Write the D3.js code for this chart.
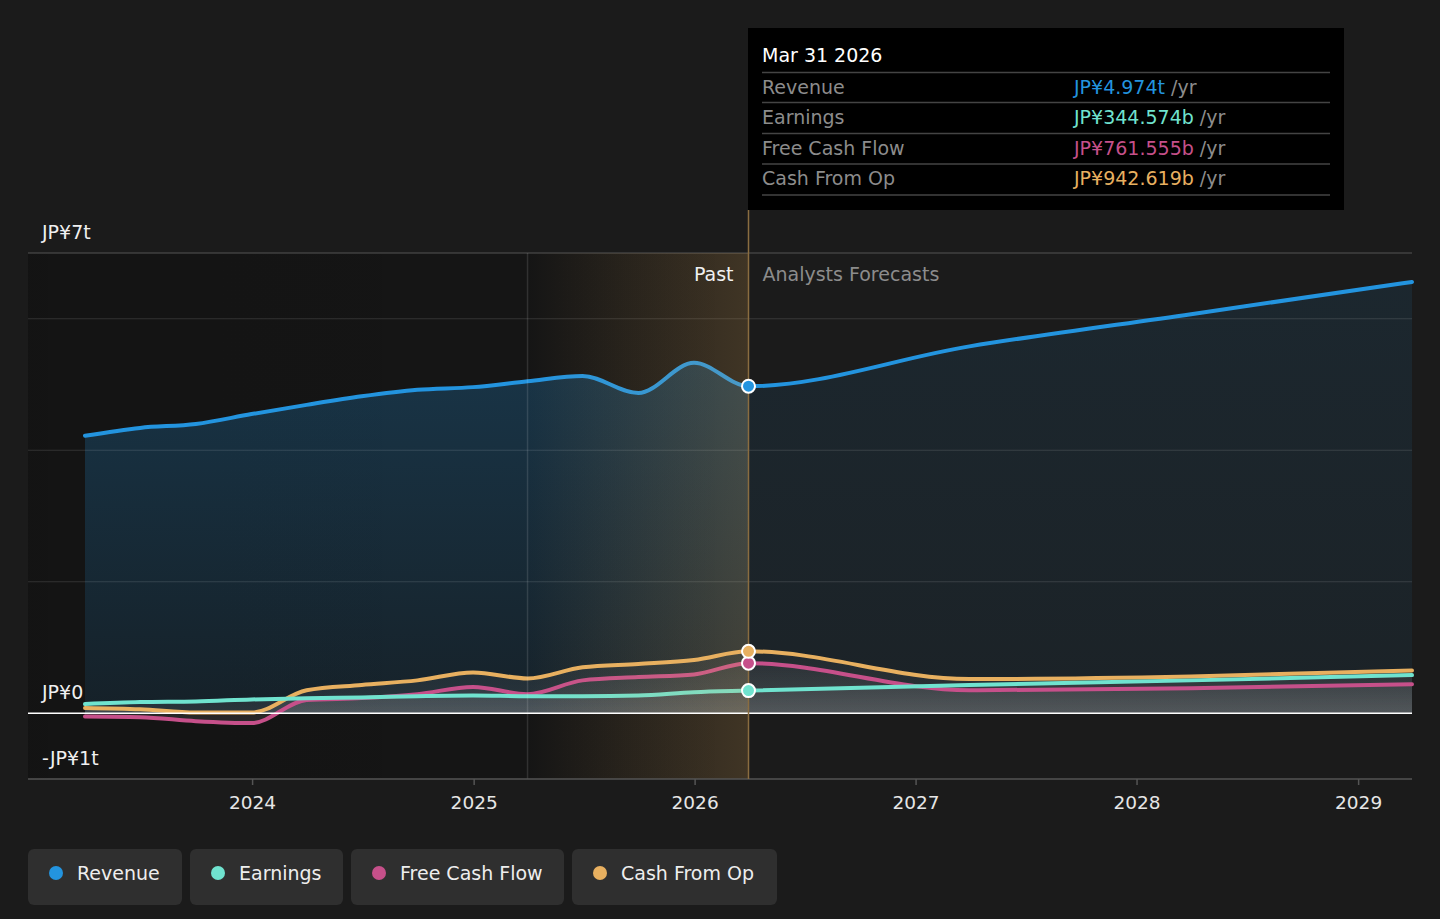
<!DOCTYPE html>
<html>
<head>
<meta charset="utf-8">
<script src="https://cdn.jsdelivr.net/npm/d3@7"></script>
<style>
html,body{margin:0;padding:0;background:#1b1b1b;}
svg{display:block;font-family:"DejaVu Sans",sans-serif;}
</style>
</head>
<body>
<svg id="chart" width="1440" height="919"></svg>
<script>
// ---------- DATA ----------
const dates = ["2023-03-31","2023-06-30","2023-09-30","2023-12-31","2024-03-31","2024-06-30","2024-09-30","2024-12-31","2025-03-31","2025-06-30","2025-09-30","2025-12-31","2026-03-31","2027-03-31","2028-03-31","2029-03-31"];
const revenue   = [4.22,4.34,4.40,4.55,4.69,4.82,4.92,4.96,5.05,5.13,4.87,5.33,4.974,5.58,6.07,6.56];
const earnings  = [0.14,0.17,0.18,0.21,0.23,0.24,0.26,0.27,0.26,0.26,0.27,0.32,0.3446,0.43,0.50,0.58];
const freeCash  = [-0.05,-0.06,-0.12,-0.15,0.20,0.23,0.29,0.40,0.29,0.50,0.55,0.59,0.7616,0.35,0.38,0.44];
const cashFromOp= [0.08,0.06,0.01,0.01,0.35,0.43,0.50,0.62,0.53,0.70,0.75,0.81,0.9426,0.52,0.56,0.65];
const seriesNames = ["Revenue","Earnings","Free Cash Flow","Cash From Op"];
const seriesColors = ["#2394df","#70e3cf","#c6508a","#e8b060"];
const tooltipValues = ["JP¥4.974t","JP¥344.574b","JP¥761.555b","JP¥942.619b"];
const tooltipTitle = "Mar 31 2026";
const yearTicks = [2024,2025,2026,2027,2028,2029];
const yLabelValues = [7,0,-1];
const yLabelText = ["JP¥7t","JP¥0","-JP¥1t"];
const gridValues = [7,6,4,2];
const highlightStart = "2025-03-31";
const forecastStart = "2026-03-31";
const domainStart = "2023-03-31", domainEnd = "2029-03-31";

// ---------- SETUP ----------
const parse = d3.timeParse("%Y-%m-%d");
const svg = d3.select("#chart");
const left = 28, right = 1412;
const x = d3.scaleTime().domain([parse(domainStart), parse(domainEnd)]).range([85, 1412]);
const y = d3.scaleLinear().domain([-1, 7]).range([779, 253]);
const xHi = x(parse(highlightStart)), xFc = x(parse(forecastStart));
const allSeries = [revenue, earnings, freeCash, cashFromOp].map((vals, i) =>
  ({name: seriesNames[i], color: seriesColors[i], pts: vals.map((v, j) => ({d: parse(dates[j]), v}))}));

const defs = svg.append("defs");
function lg(id, x1, y1, x2, y2, stops){
  const g = defs.append("linearGradient").attr("id", id).attr("x1",x1).attr("y1",y1).attr("x2",x2).attr("y2",y2);
  stops.forEach(s => g.append("stop").attr("offset", s[0]).attr("stop-color", s[1]).attr("stop-opacity", s[2]));
}
lg("revPast","0","0","0","1",[[0,"#2394df",0.28],[1,"#2394df",0.10]]);
lg("revFc","0","0","0","1",[[0,"#2394df",0.10],[1,"#2394df",0.06]]);
lg("grayFill","0","0","0","1",[[0,"#ffffff",0.03],[1,"#ffffff",0.09]]);
lg("hiGrad","0","0","1","0",[[0,"#e8b060",0.0],[1,"#e8b060",0.2]]);
lg("pastGrad","0","0","1","0",[[0,"#000",0.28],[1,"#000",0.2]]);

defs.append("clipPath").attr("id","clipPast").append("rect").attr("x",0).attr("y",0).attr("width",xFc).attr("height",919);
defs.append("clipPath").attr("id","clipFc").append("rect").attr("x",xFc).attr("y",0).attr("width",1440-xFc).attr("height",919);

// past dark background
svg.append("rect").attr("x", left).attr("y", y(7)).attr("width", xFc - left).attr("height", y(-1) - y(7)).attr("fill","url(#pastGrad)");

const curve = d3.curveMonotoneX;
const area = d3.area().x(p => x(p.d)).y0(y(0)).y1(p => y(p.v)).curve(curve);
const line = d3.line().x(p => x(p.d)).y(p => y(p.v)).curve(curve);

// revenue area
svg.append("path").datum(allSeries[0].pts).attr("d", area).attr("fill","url(#revPast)").attr("clip-path","url(#clipPast)");
svg.append("path").datum(allSeries[0].pts).attr("d", area).attr("fill","url(#revFc)").attr("clip-path","url(#clipFc)");
// other areas
allSeries.slice(1).forEach(s => {
  svg.append("path").datum(s.pts).attr("d", area).attr("fill","url(#grayFill)");
});

// gridlines
svg.selectAll(".grid").data(gridValues).enter().append("line")
  .attr("x1", left).attr("x2", right).attr("y1", d => y(d)).attr("y2", d => y(d))
  .attr("stroke", d => d === 7 ? "#555" : "rgba(255,255,255,0.13)").attr("stroke-width", 1);

// lines
allSeries.slice().reverse().forEach(s => {
  svg.append("path").datum(s.pts).attr("d", line).attr("fill","none")
    .attr("stroke", s.color).attr("stroke-width", 4).attr("stroke-linecap","round");
});

// highlight overlay
svg.append("rect").attr("x", xHi).attr("y", y(7)).attr("width", xFc - xHi).attr("height", y(-1) - y(7)).attr("fill","url(#hiGrad)");
svg.append("line").attr("x1", xHi).attr("x2", xHi).attr("y1", y(7)).attr("y2", y(-1)).attr("stroke","rgba(255,255,255,0.12)").attr("stroke-width",1.5);

// zero line
svg.append("line").attr("x1", left).attr("x2", right).attr("y1", y(0)).attr("y2", y(0)).attr("stroke","#ffffff").attr("stroke-width",1.5);

// x axis
const xAxis = d3.axisBottom(x).tickValues(yearTicks.map(yr => new Date(yr,0,1))).tickFormat(d3.timeFormat("%Y")).tickSize(6).tickPadding(11);
const gx = svg.append("g").attr("transform",`translate(0,${y(-1)})`).call(xAxis);
gx.select(".domain").remove();
gx.selectAll(".tick line").attr("stroke","#555").attr("stroke-width",1.5);
gx.selectAll(".tick text").attr("fill","#e6e6e6").attr("font-size",18.5).attr("font-family","DejaVu Sans");
svg.append("line").attr("x1", left).attr("x2", right).attr("y1", y(-1)).attr("y2", y(-1)).attr("stroke","#555").attr("stroke-width",1.5);

// y labels
svg.selectAll(".ylab").data(yLabelValues).enter().append("text")
  .attr("x", 42).attr("y", d => y(d) - 14).attr("fill","#f0f0f0").attr("font-size",19)
  .text((d,i) => yLabelText[i]);

// forecast divider
svg.append("line").attr("x1", xFc).attr("x2", xFc).attr("y1", 210).attr("y2", y(-1)).attr("stroke","#8a6d40").attr("stroke-width",1.5);

// Past / Forecast labels
svg.append("text").attr("x", xFc - 15).attr("y", 281).attr("text-anchor","end").attr("fill","#f0f0f0").attr("font-size",19).text("Past");
svg.append("text").attr("x", xFc + 14).attr("y", 281).attr("fill","#8c8c8c").attr("font-size",19).text("Analysts Forecasts");

// markers
allSeries.forEach(s => {
  const p = s.pts.find(q => +q.d === +parse(forecastStart));
  svg.append("circle").attr("cx", x(p.d)).attr("cy", y(p.v)).attr("r", 6.5)
    .attr("fill", s.color).attr("stroke","#fff").attr("stroke-width",2);
});

// tooltip
const tt = svg.append("g");
tt.append("rect").attr("x", 748).attr("y", 28).attr("width", 596).attr("height", 182).attr("fill","#000");
tt.append("text").attr("x",762).attr("y",62).attr("fill","#fff").attr("font-size",19).text(tooltipTitle);
const rowY = [72.5,102.5,133.5,164,195];
rowY.forEach(ry => tt.append("line").attr("x1",762).attr("x2",1330).attr("y1",ry).attr("y2",ry).attr("stroke","#444").attr("stroke-width",1.5));
seriesNames.forEach((n,i) => {
  const by = rowY[i] + 21;
  tt.append("text").attr("x",762).attr("y",by).attr("fill","#8c8c8c").attr("font-size",19).text(n);
  const t = tt.append("text").attr("x",1074).attr("y",by).attr("font-size",19);
  t.append("tspan").attr("fill", seriesColors[i]).text(tooltipValues[i]);
  t.append("tspan").attr("fill","#8c8c8c").text(" /yr");
});

// legend
const legX = [28,190,351,572], legW = [154,153,213,205];
seriesNames.forEach((n,i) => {
  const g = svg.append("g").attr("transform",`translate(${legX[i]},849)`);
  g.append("rect").attr("width", legW[i]).attr("height",56).attr("rx",6).attr("fill","#2f2f2f");
  g.append("circle").attr("cx",28).attr("cy",24).attr("r",7).attr("fill",seriesColors[i]);
  g.append("text").attr("x",49).attr("y",31).attr("fill","#eeeeee").attr("font-size",19).text(n);
});
</script>
</body>
</html>
